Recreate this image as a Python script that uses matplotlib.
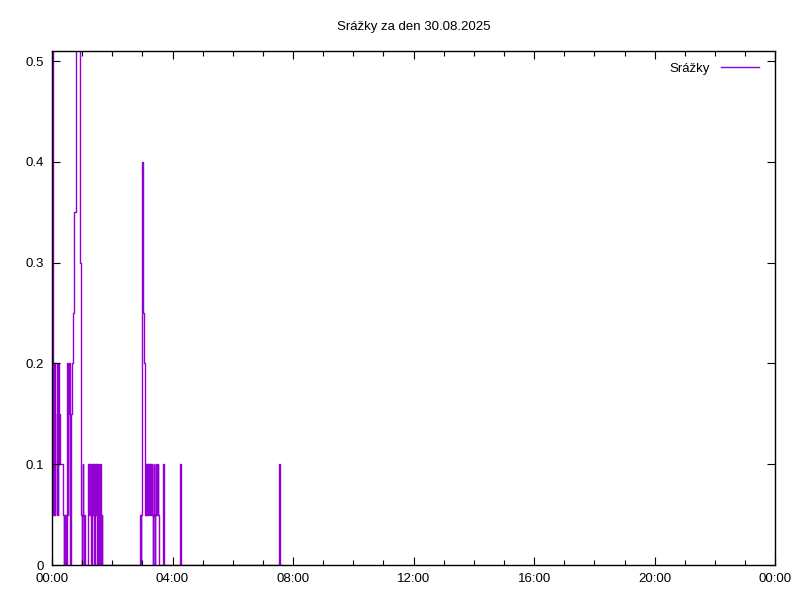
#!/usr/bin/env python3
import matplotlib
matplotlib.use('Agg')
import matplotlib.pyplot as plt
from matplotlib.ticker import MultipleLocator, FuncFormatter

# minutes since midnight and rain (mm) per sample
minutes = [0, 1, 2, 3, 4, 5, 6, 7, 8, 9, 10, 11, 12, 13, 14, 15, 16, 17, 18, 19,
           20, 21, 22, 23, 24, 25, 26, 27, 28, 29, 30, 31, 32, 33, 34, 35, 36, 37,
           38, 39, 40, 41, 42, 43, 44, 45, 46, 47, 48, 50, 52, 54, 55, 56, 57, 58,
           59, 60, 61, 62, 63, 64, 65, 70, 71, 72, 73, 74, 75, 76, 77, 78, 79, 80,
           81, 82, 83, 84, 85, 86, 87, 88, 89, 90, 91, 92, 93, 94, 95, 96, 97, 98,
           99, 100,
           174, 175, 176, 177, 178, 179, 180, 181, 182, 183, 184, 185, 186, 187,
           188, 189, 190, 191, 192, 193, 194, 195, 196, 197, 198, 199, 200, 201,
           202, 203, 204, 205, 206, 207, 208, 209, 210, 211, 212, 213, 220, 221,
           222, 223, 224, 225, 253, 254, 255, 256, 257,
           450, 451, 452, 453, 454, 460]
rain = [0.6, 0.3, 0.05, 0.2, 0.05, 0.2, 0.2, 0.2, 0.2, 0.05, 0.15, 0.05, 0.2,
        0.1, 0.15, 0.1, 0.1, 0.1, 0.1, 0.1, 0.1, 0.1, 0.05, 0.0, 0.05, 0.0, 0.05,
        0.0, 0.0, 0.05, 0.2, 0.05, 0.15, 0.15, 0.2, 0.05, 0.0, 0.05, 0.15, 0.2,
        0.2, 0.25, 0.25, 0.35, 0.35, 0.35, 0.35, 0.6, 0.6, 0.6, 0.6, 0.6, 0.6,
        0.3, 0.3, 0.05, 0.0, 0.05, 0.1, 0.05, 0.0, 0.05, 0.0, 0.0, 0.05, 0.1,
        0.05, 0.1, 0.05, 0.1, 0.05, 0.0, 0.05, 0.1, 0.05, 0.1, 0.05, 0.0, 0.05,
        0.1, 0.05, 0.1, 0.05, 0.0, 0.05, 0.1, 0.05, 0.0, 0.05, 0.1, 0.05, 0.0,
        0.05, 0.0,
        0.0, 0.0, 0.05, 0.0, 0.05, 0.1, 0.4, 0.35, 0.25, 0.2, 0.2, 0.1, 0.05,
        0.1, 0.05, 0.1, 0.1, 0.05, 0.1, 0.05, 0.1, 0.05, 0.1, 0.1, 0.05, 0.1,
        0.05, 0.0, 0.05, 0.1, 0.05, 0.0, 0.05, 0.1, 0.05, 0.1, 0.05, 0.1, 0.05,
        0.0, 0.0, 0.05, 0.1, 0.05, 0.0, 0.0, 0.0, 0.05, 0.1, 0.05, 0.0,
        0.0, 0.05, 0.1, 0.05, 0.0, 0.0]

title = "Srážky za den 30.08.2025"
series_name = "Srážky"

plt.rcParams['font.family'] = ['Liberation Sans', 'DejaVu Sans']
fig = plt.figure(figsize=(8, 6), dpi=100)
ax = fig.add_axes([0.065, 0.0583, 0.904, 0.8567])

ax.plot(minutes, rain, color="#9400d3", lw=1.0, drawstyle="steps-post",
        label=series_name, zorder=1)

ax.set_xlim(0, 1440)
ax.set_ylim(0, 0.51)
ax.xaxis.set_major_locator(MultipleLocator(240))
ax.xaxis.set_minor_locator(MultipleLocator(60))
ax.xaxis.set_major_formatter(FuncFormatter(lambda v, p: "%02d:%02d" % ((int(v) // 60) % 24, int(v) % 60)))
ax.yaxis.set_major_locator(MultipleLocator(0.1))
ax.yaxis.set_major_formatter(FuncFormatter(lambda v, p: "0" if abs(v) < 1e-9 else "%g" % v))

ax.tick_params(which="both", direction="in", top=True, right=True, labelsize=9.5, width=0.8, pad=6)
ax.tick_params(which="major", length=6)
ax.tick_params(which="minor", length=3.5)
for s in ax.spines.values():
    s.set_linewidth(1.0)
    s.set_zorder(3)

fig.suptitle(title, x=0.517, y=0.965, fontsize=9.5)
leg = ax.legend(loc="upper right", bbox_to_anchor=(0.9903, 0.996), frameon=False,
                fontsize=9.5, markerfirst=False, handlelength=2.9, borderaxespad=0.3)

plt.savefig("out.png")
